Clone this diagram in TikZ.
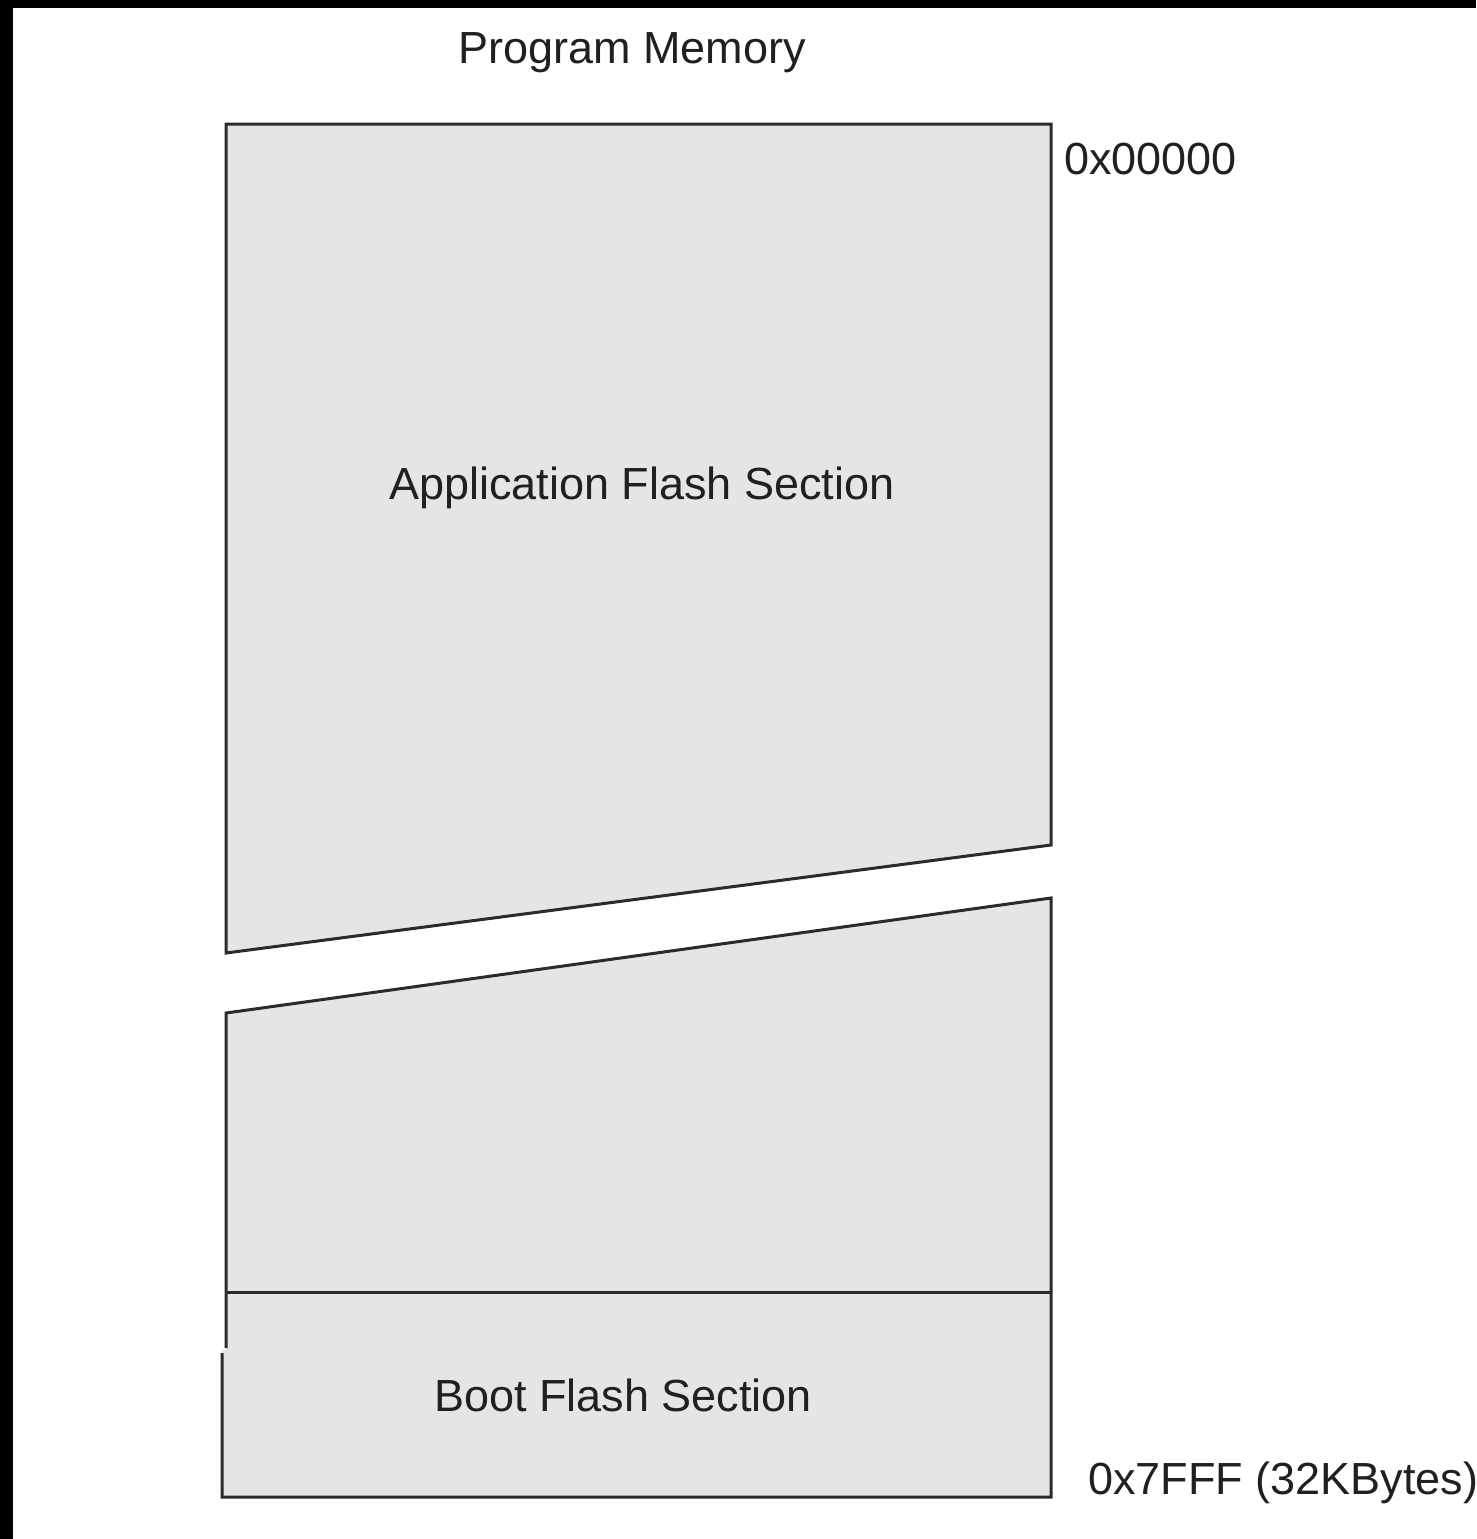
\documentclass[tikz,border=0pt]{standalone}
\usepackage{fontspec}
\setmainfont{Liberation Sans}
\definecolor{memfill}{HTML}{E4E5E7}
\definecolor{memline}{HTML}{2B2B2B}
\definecolor{memtext}{HTML}{231F20}
\begin{document}
\begin{tikzpicture}[x=1pt,y=-1pt,
  memblock/.style={fill=memfill,draw=none},
  memedge/.style={draw=memline,line width=3pt,line join=miter},
  lbl/.style={inner sep=0pt,text=memtext,font=\fontsize{45}{54}\selectfont,anchor=base}]
\useasboundingbox (0,0) rectangle (1476,1539);
\fill[white] (0,0) rectangle (1476,1539);
\fill[black] (0,0) rectangle (13,1539);
\fill[black] (0,0) rectangle (1476,8);
% application section (upper piece)
\path[memblock] (226,124) -- (1051,124) -- (1051,845) -- (226,953) -- cycle;
\draw[memedge] (226,124) -- (1051,124) -- (1051,845) -- (226,953) -- cycle;
% lower piece
\path[memblock] (226,1013) -- (1051,898) -- (1051,1497) -- (222,1497) -- (222,1350) -- (226,1350) -- cycle;
\draw[memedge] (226,1348) -- (226,1013) -- (1051,898) -- (1051,1497) -- (222,1497) -- (222,1353);
\draw[memedge] (226,1292) -- (1051,1292);
% labels
\node[lbl] (title) at (632,63) {Program Memory};
\node[lbl] (app) at (642,499) {Application Flash Section};
\node[lbl] (boot) at (623,1411) {Boot Flash Section};
\node[lbl,anchor=base west] (start) at (1064,174) {0x00000};
\node[lbl,anchor=base west] (end) at (1088,1494) {0x7FFF (32KBytes)};
\end{tikzpicture}
\end{document}
